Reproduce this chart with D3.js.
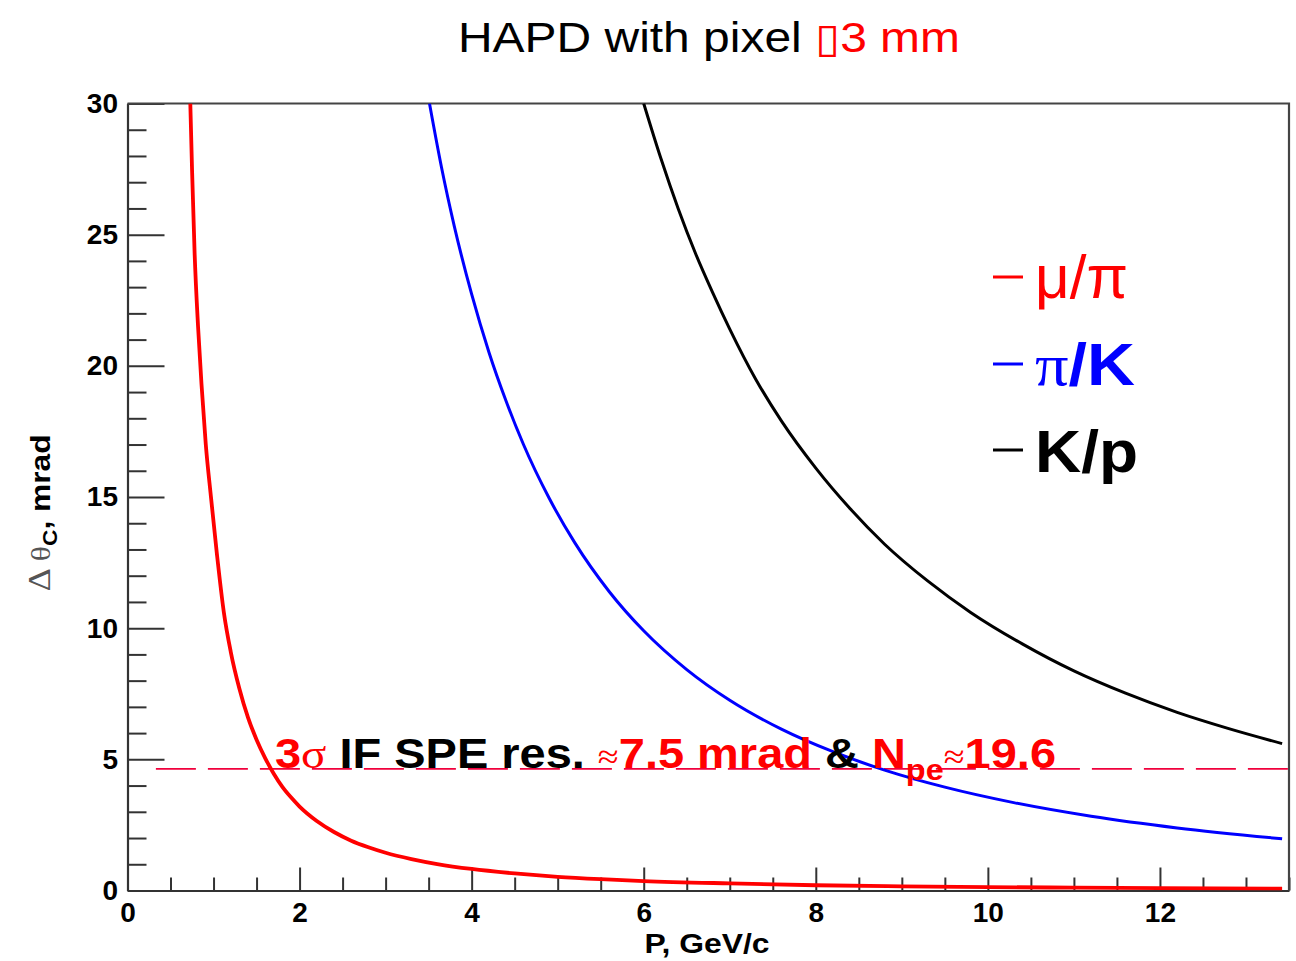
<!DOCTYPE html>
<html>
<head>
<meta charset="utf-8">
<script src="https://cdn.jsdelivr.net/npm/d3@7/dist/d3.min.js"></script>
<style>
  html, body { margin: 0; padding: 0; background: #fff; }
  svg { display: block; }
  text { font-family: "Liberation Sans", Arial, Helvetica, sans-serif; }
</style>
</head>
<body>
<svg id="chart" width="1296" height="961"></svg>
<script>
// ---------------- data ----------------
const muPiP   = [0.73, 0.75, 0.78, 0.82, 0.86, 0.91, 0.97, 1.04, 1.12, 1.2, 1.3, 1.4, 1.5, 1.6, 1.7, 1.8, 1.9, 2.0, 2.2, 2.4, 2.6, 2.8, 3.0, 3.3, 3.6, 4.0, 4.5, 5.0, 5.5, 6.0, 7.0, 8.0, 9.0, 10.0, 11.0, 12.0, 13.42];
const muPiVal = [30, 27.5, 24.3, 21.5, 19.3, 17.0, 15.0, 12.8, 10.6, 9.1, 7.7, 6.6, 5.75, 5.05, 4.45, 3.95, 3.55, 3.2, 2.65, 2.23, 1.9, 1.65, 1.44, 1.2, 1.01, 0.82, 0.65, 0.52, 0.43, 0.36, 0.27, 0.2, 0.16, 0.13, 0.11, 0.09, 0.07];

const piKP    = [3.51, 3.65, 3.8, 4.0, 4.2, 4.4, 4.6, 4.9, 5.2, 5.6, 6.0, 6.5, 7.0, 7.6, 8.2, 8.8, 9.5, 10.3, 11.2, 12.2, 13.42];
const piKVal  = [30, 27.56, 25.3, 22.73, 20.53, 18.66, 17.02, 14.96, 13.25, 11.39, 9.9, 8.42, 7.25, 6.15, 5.29, 4.59, 3.94, 3.35, 2.83, 2.385, 1.97];

const kPP     = [6.0, 6.2, 6.4, 6.6, 6.8, 7.0, 7.3, 7.6, 8.0, 8.4, 8.8, 9.3, 9.8, 10.4, 11.0, 11.6, 12.2, 12.8, 13.42];
const kPVal   = [30.0, 27.9, 26.0, 24.3, 22.8, 21.4, 19.5, 17.9, 16.1, 14.55, 13.2, 11.8, 10.6, 9.4, 8.37, 7.52, 6.79, 6.17, 5.6];

const thresholdVal = 4.64;          // dashed 3σ line
const thresholdP   = [0.33, 13.5];

const xMajorTicks = [0, 2, 4, 6, 8, 10, 12];
const yMajorTicks = [0, 5, 10, 15, 20, 25, 30];
const xDomain = [0, 13.5];
const yDomain = [0, 30];

const seriesNames  = ["μ/π", "π/K", "K/p"];
const seriesColors = ["#ff0000", "#0000ff", "#000000"];

// ---------------- layout ----------------
const L = 127.5, R = 1289, T = 103.5, B = 890.5;
const svg = d3.select("#chart");

const x = d3.scaleLinear().domain(xDomain).range([L, R]);
const y = d3.scaleLinear().domain(yDomain).range([B, T]);

const xMinor = d3.range(0, 13.5 + 1e-9, 0.5).filter(v => !xMajorTicks.includes(v));
const yMinor = d3.range(0, 30 + 1e-9, 1).filter(v => !yMajorTicks.includes(v));

const axisColor = "#333";

// minor ticks
svg.append("g").attr("transform", `translate(${L},0)`)
  .call(d3.axisLeft(y).tickValues(yMinor).tickSize(-19).tickSizeOuter(0).tickFormat(""))
  .call(g => g.select(".domain").remove())
  .call(g => g.selectAll("line").attr("stroke", axisColor).attr("stroke-width", 2));
svg.append("g").attr("transform", `translate(0,${B})`)
  .call(d3.axisBottom(x).tickValues(xMinor).tickSize(-13).tickSizeOuter(0).tickFormat(""))
  .call(g => g.select(".domain").remove())
  .call(g => g.selectAll("line").attr("stroke", axisColor).attr("stroke-width", 2));

// major ticks + labels
const yAxis = svg.append("g").attr("transform", `translate(${L},0)`)
  .call(d3.axisLeft(y).tickValues(yMajorTicks).tickSize(-37).tickSizeOuter(0).tickPadding(9.5).tickFormat(d3.format("d")));
yAxis.select(".domain").attr("stroke", axisColor).attr("stroke-width", 2.2);
yAxis.selectAll("line").attr("stroke", axisColor).attr("stroke-width", 2);
yAxis.selectAll("text").attr("font-size", 28).attr("font-weight", "bold").attr("fill", "#000")
  .attr("font-family", "'Liberation Sans', Arial, sans-serif");

const xAxis = svg.append("g").attr("transform", `translate(0,${B})`)
  .call(d3.axisBottom(x).tickValues(xMajorTicks).tickSize(-23).tickSizeOuter(0).tickPadding(12).tickFormat(d3.format("d")));
xAxis.select(".domain").attr("stroke", axisColor).attr("stroke-width", 2.2);
xAxis.selectAll("line").attr("stroke", axisColor).attr("stroke-width", 2);
xAxis.selectAll("text").attr("font-size", 28).attr("font-weight", "bold").attr("fill", "#000")
  .attr("font-family", "'Liberation Sans', Arial, sans-serif");

// frame top & right
svg.append("path")
  .attr("d", `M${L},${T}H${R}V${B}`)
  .attr("fill", "none").attr("stroke", "#444").attr("stroke-width", 2.2);

// clip
svg.append("clipPath").attr("id", "plotclip")
  .append("rect").attr("x", L).attr("y", T).attr("width", R - L).attr("height", B - T);

const plot = svg.append("g").attr("clip-path", "url(#plotclip)");

// threshold dashed line
plot.append("line")
  .attr("x1", x(thresholdP[0])).attr("x2", x(thresholdP[1]))
  .attr("y1", y(thresholdVal)).attr("y2", y(thresholdVal))
  .attr("stroke", "#f0003c").attr("stroke-width", 1.8)
  .attr("stroke-dasharray", "40,12");

// curves
const line = d3.line().x(d => x(d[0])).y(d => y(d[1])).curve(d3.curveMonotoneX);
const series = [
  { p: muPiP, v: muPiVal, w: 3.8 },
  { p: piKP,  v: piKVal,  w: 3.0 },
  { p: kPP,   v: kPVal,   w: 3.0 }
];
series.forEach((s, i) => {
  plot.append("path")
    .datum(s.p.map((p, j) => [p, s.v[j]]))
    .attr("d", line)
    .attr("fill", "none")
    .attr("stroke", seriesColors[i])
    .attr("stroke-width", s.w)
    .attr("stroke-linejoin", "round");
});

// annotation
const ann = svg.append("text")
  .attr("x", 275).attr("y", 768)
  .attr("font-size", 42).attr("font-weight", "bold");
ann.append("tspan").attr("fill", "#f00").text("3");
ann.append("tspan").attr("fill", "#f00").attr("font-family", "'Liberation Serif', serif").attr("font-weight", "normal").text("σ");
ann.append("tspan").attr("fill", "#000").text(" IF SPE res. ");
ann.append("tspan").attr("fill", "#f00").attr("font-family", "'Liberation Serif', serif").attr("font-weight", "normal").attr("font-size", 34).text("≈");
ann.append("tspan").attr("fill", "#f00").text("7.5 mrad");
ann.append("tspan").attr("fill", "#000").text(" & ");
ann.append("tspan").attr("fill", "#f00").text("N");
ann.append("tspan").attr("fill", "#f00").attr("font-size", 29).attr("dy", 12).text("pe");
ann.append("tspan").attr("fill", "#f00").attr("font-family", "'Liberation Serif', serif").attr("font-weight", "normal").attr("font-size", 34).attr("dy", -12).text("≈");
ann.append("tspan").attr("fill", "#f00").text("19.6");
ann.attr("textLength", 781).attr("lengthAdjust", "spacingAndGlyphs");

// legend
const legY = [277, 364, 450];
const leg = svg.append("g");
seriesNames.forEach((name, i) => {
  leg.append("line")
    .attr("x1", 993).attr("x2", 1023).attr("y1", legY[i]).attr("y2", legY[i])
    .attr("stroke", seriesColors[i]).attr("stroke-width", 3);
});
// μ/π
const t0 = leg.append("text").attr("x", 1035).attr("y", legY[0] + 21)
  .attr("font-size", 62).attr("fill", seriesColors[0])
  .attr("font-family", "'Liberation Serif', 'Times New Roman', serif");
t0.text(seriesNames[0]);
t0.attr("textLength", 93).attr("lengthAdjust", "spacingAndGlyphs");
// π/K
const t1 = leg.append("text").attr("x", 1035).attr("y", legY[1] + 21)
  .attr("font-size", 60).attr("fill", seriesColors[1]);
t1.append("tspan").attr("font-family", "'Liberation Serif', 'Times New Roman', serif").text(seriesNames[1].split("/")[0]);
t1.append("tspan").attr("font-weight", "bold").text("/" + seriesNames[1].split("/")[1]);
t1.attr("textLength", 100).attr("lengthAdjust", "spacingAndGlyphs");
// K/p
const t2 = leg.append("text").attr("x", 1035).attr("y", legY[2] + 22)
  .attr("font-size", 60).attr("fill", seriesColors[2]).attr("font-weight", "bold")
  .text(seriesNames[2]);
t2.attr("textLength", 103).attr("lengthAdjust", "spacingAndGlyphs");

// title
const title = svg.append("text").attr("x", 458).attr("y", 52).attr("font-size", 42).attr("fill", "#000");
title.append("tspan").text("HAPD with pixel ");
title.append("tspan").attr("fill", "#f00").attr("font-family", "'DejaVu Sans', sans-serif").attr("font-size", 40).text("▯");
title.append("tspan").attr("fill", "#f00").text("3 mm");
title.attr("textLength", 502).attr("lengthAdjust", "spacingAndGlyphs");

// x axis title
svg.append("text").attr("x", 707).attr("y", 953).attr("text-anchor", "middle")
  .attr("font-size", 27).attr("font-weight", "bold").attr("fill", "#000")
  .attr("textLength", 125).attr("lengthAdjust", "spacingAndGlyphs")
  .text("P, GeV/c");

// y axis title
const yt = svg.append("text")
  .attr("transform", "translate(50,513) rotate(-90)")
  .attr("text-anchor", "middle")
  .attr("font-size", 28).attr("fill", "#000");
yt.append("tspan").attr("fill", "#555").attr("font-family", "'Liberation Serif', serif").attr("font-size", 32).text("Δ ");
yt.append("tspan").attr("fill", "#555").attr("font-family", "'Liberation Serif', serif").text("θ");
yt.append("tspan").attr("font-weight", "bold").attr("font-size", 20).attr("dy", 7).text("C");
yt.append("tspan").attr("font-weight", "bold").attr("dy", -7).text(", mrad");
yt.attr("textLength", 157).attr("lengthAdjust", "spacingAndGlyphs");
</script>
</body>
</html>
